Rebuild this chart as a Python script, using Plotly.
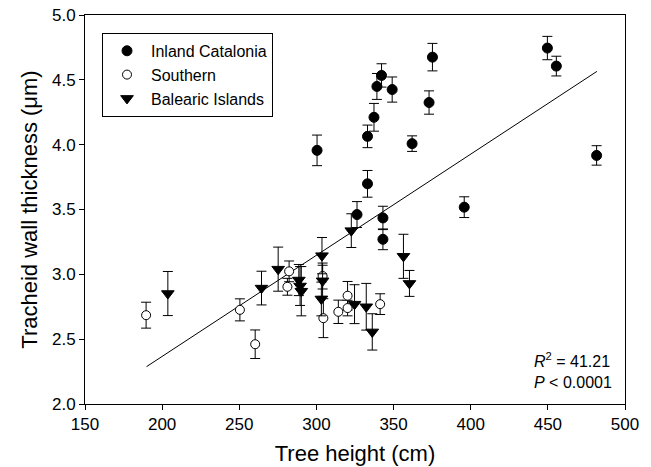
import plotly.graph_objects as go
import numpy as np

# Inland Catalonia (filled circles)
inland_x = [300.4, 333.1, 337.3, 339.2, 342.2, 349.1, 362.0, 373.0, 375.2, 449.7, 455.5, 481.6, 333.1, 326.3, 343.1, 343.1, 395.8]
inland_y = [3.956, 4.064, 4.211, 4.449, 4.534, 4.425, 4.008, 4.325, 4.675, 4.745, 4.606, 3.917, 3.698, 3.461, 3.435, 3.270, 3.518]
inland_e = [0.118, 0.087, 0.107, 0.100, 0.090, 0.097, 0.060, 0.090, 0.106, 0.090, 0.076, 0.075, 0.103, 0.100, 0.090, 0.080, 0.080]

# Southern (open circles)
south_x = [189.6, 250.4, 260.3, 281.2, 282.3, 304.0, 304.5, 314.2, 320.2, 320.2, 341.3]
south_y = [2.685, 2.726, 2.461, 2.904, 3.023, 2.987, 2.662, 2.711, 2.835, 2.740, 2.770]
south_e = [0.100, 0.085, 0.110, 0.065, 0.080, 0.100, 0.150, 0.090, 0.110, 0.060, 0.080]

# Balearic Islands (down triangles)
bal_x = [203.7, 264.4, 275.2, 288.6, 289.4, 290.2, 303.6, 304.0, 303.2, 322.6, 324.7, 332.3, 336.2, 356.4, 360.3]
bal_y = [2.852, 2.894, 3.040, 2.956, 2.910, 2.870, 3.144, 2.950, 2.810, 3.337, 2.770, 2.750, 2.556, 3.139, 2.930]
bal_e = [0.170, 0.130, 0.170, 0.120, 0.150, 0.190, 0.140, 0.120, 0.130, 0.130, 0.150, 0.180, 0.140, 0.170, 0.100]

# Regression line coefficients
fit_intercept = 0.807
fit_slope = 0.0078
fit_xrange = [189.9, 481.8]

x_ticks = [150, 200, 250, 300, 350, 400, 450, 500]
y_ticks = [2.0, 2.5, 3.0, 3.5, 4.0, 4.5, 5.0]

FONT = "Liberation Sans, Arial, sans-serif"

fig = go.Figure()

fx = np.array(fit_xrange)
fig.add_trace(go.Scatter(x=fx, y=fit_intercept + fit_slope * fx, mode="lines",
                         line=dict(color="black", width=1), showlegend=False, hoverinfo="skip"))

err_style = dict(type="data", visible=True, color="black", thickness=1, width=5)

fig.add_trace(go.Scatter(x=inland_x, y=inland_y, mode="markers", name="Inland Catalonia",
                         error_y=dict(array=inland_e, **err_style),
                         marker=dict(symbol="circle", size=10, color="black",
                                     line=dict(color="black", width=1))))
fig.add_trace(go.Scatter(x=south_x, y=south_y, mode="markers", name="Southern",
                         error_y=dict(array=south_e, **err_style),
                         marker=dict(symbol="circle", size=9, color="white",
                                     line=dict(color="black", width=1))))
fig.add_trace(go.Scatter(x=bal_x, y=bal_y, mode="markers", name="Balearic Islands",
                         error_y=dict(array=bal_e, **err_style),
                         marker=dict(symbol="triangle-down", size=11, color="black",
                                     line=dict(color="black", width=1))))

axis_common = dict(showgrid=False, zeroline=False, showline=True, linecolor="black",
                   linewidth=1, mirror=True, ticks="outside", ticklen=5, tickcolor="black",
                   automargin=False, ticklabeloverflow="allow",
                   tickfont=dict(family=FONT, size=17, color="black"))

fig.update_xaxes(range=[150, 500], tickvals=x_ticks, ticktext=[str(v) for v in x_ticks],
                 title=dict(text="Tree height (cm)", font=dict(family=FONT, size=22, color="black"),
                            standoff=12),
                 **axis_common)
fig.update_yaxes(range=[2.0, 5.0], tickvals=y_ticks, ticktext=[f"{v:.1f}" for v in y_ticks],
                 title=dict(text="Tracheid wall thickness (\u03bcm)",
                            font=dict(family=FONT, size=22, color="black"), standoff=8),
                 **axis_common)

fig.add_annotation(xref="paper", yref="paper", x=0.827, y=0.087, xanchor="left", yanchor="middle",
                   text="<i>R</i><sup>2</sup> = 41.21<br><i>P</i> &lt; 0.0001", align="left",
                   showarrow=False, font=dict(family=FONT, size=16, color="black"))

# page body has an 8px margin, so the figure is sized to fit the 651x467 window
fig.update_layout(
    width=643, height=459,
    margin=dict(l=77, r=26, t=7, b=63),
    paper_bgcolor="white", plot_bgcolor="white",
    font=dict(family=FONT, color="black"),
    legend=dict(x=0.0315, y=0.954, xanchor="left", yanchor="top",
                bordercolor="black", borderwidth=1, bgcolor="white",
                font=dict(family=FONT, size=16, color="black"),
                tracegroupgap=0, itemwidth=38),
)

fig.write_html("out.html")
